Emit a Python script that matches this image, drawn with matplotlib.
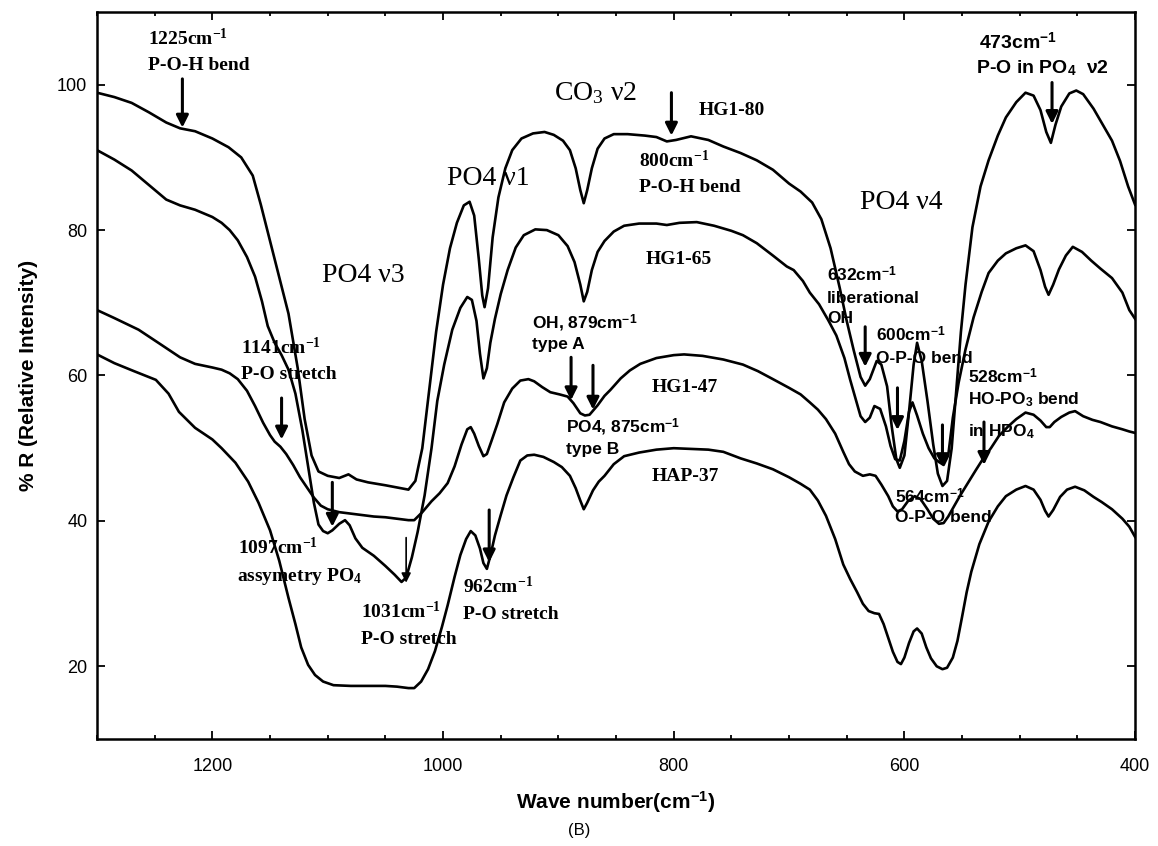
import matplotlib
matplotlib.use("Agg")
import matplotlib.pyplot as plt
from matplotlib.ticker import MultipleLocator

plt.rcParams['mathtext.fontset'] = 'custom'
plt.rcParams['mathtext.rm'] = 'Liberation Serif'
plt.rcParams['mathtext.bf'] = 'Liberation Serif:bold'
plt.rcParams['mathtext.it'] = 'Liberation Serif:italic'
plt.rcParams['mathtext.sf'] = 'Liberation Sans:bold'

# HG1-80
hg80_x = [1300, 1285, 1270, 1255, 1240, 1228, 1215, 1200, 1186, 1175, 1165, 1158, 1150, 1142, 1134,
          1126, 1120, 1114, 1108, 1100, 1090, 1082, 1075, 1065, 1050, 1040, 1030, 1024, 1018, 1012,
          1006, 1000, 994, 988, 982, 977, 973, 969, 966, 964, 961, 957, 952, 946, 940, 932, 922, 912,
          904, 896, 890, 885, 881, 878, 875, 871, 866, 860, 852, 840, 825, 815, 806, 798, 785, 770,
          757, 742, 728, 714, 700, 690, 680, 672, 664, 656, 650, 644, 638, 634, 630, 624, 620, 615,
          611, 607, 604, 600, 596, 592, 589, 585, 580, 575, 571, 567, 563, 559, 555, 551, 547, 541,
          534, 527, 519, 512, 503, 495, 488, 482, 477, 473, 469, 464, 457, 451, 445, 436, 428, 420,
          413, 406, 400]
hg80_y = [98.9, 98.3, 97.5, 96.2, 94.8, 94.0, 93.6, 92.6, 91.4, 90.0, 87.5, 83.5, 78.5, 73.5, 68.5,
          61, 54, 49, 46.8, 46.2, 45.9, 46.4, 45.7, 45.3, 44.9, 44.6, 44.3, 45.5, 50, 58,
          66, 72.5, 77.5, 81, 83.4, 83.9, 82, 76, 71, 69.4, 72, 79, 84.5, 88.5, 91, 92.6, 93.3, 93.5,
          93.1, 92.3, 91, 88.5, 85.5, 83.7, 85.5, 88.5, 91.2, 92.6, 93.2, 93.2, 93.0, 92.8, 92.2, 92.4, 92.9, 92.4,
          91.5, 90.6, 89.6, 88.3, 86.4, 85.3, 83.8, 81.5, 77.5, 72, 67.5, 63.5, 59.8, 58.6, 59.5, 62, 61.5, 58.5,
          53, 48.5, 47.3, 49, 55, 61.5, 64.5, 62, 56.5, 50.5, 46.5, 44.8, 45.5, 50, 58, 66, 72.5, 80.4,
          86, 89.6, 93, 95.5, 97.6, 98.9, 98.5, 96.5, 93.5, 92, 94.5, 97, 98.8, 99.2, 98.7, 96.7, 94.5, 92.3,
          89.5, 86, 83.5]

# HG1-65
hg65_x = [1300, 1285, 1270, 1255, 1240, 1228, 1215, 1200, 1192, 1185, 1178, 1170, 1163, 1157, 1152,
          1146, 1140, 1134, 1128, 1122, 1117, 1112, 1108, 1104, 1100, 1096, 1090, 1085, 1081, 1076,
          1070, 1060, 1050, 1042, 1036, 1032, 1027, 1022, 1016, 1010, 1005, 999, 992, 985, 979, 975,
          971, 968, 965, 962, 959, 955, 950, 944, 937, 930, 920, 910, 900, 892, 886, 881, 878, 875,
          871, 866, 860, 852, 843, 830, 815, 806, 795, 780, 765, 750, 740, 728, 714, 702, 696, 688,
          682, 674, 666, 659, 652, 647, 642, 638, 634, 630, 626, 621, 616, 612, 608, 604, 600, 596,
          593, 589, 584, 579, 574, 570, 566, 562, 558, 553, 547, 540, 533, 527, 519, 512, 503, 495,
          488, 482, 478, 475, 471, 466, 460, 454, 446, 438, 430, 420, 411, 405, 400]
hg65_y = [91.0, 89.7, 88.2, 86.2, 84.2, 83.4, 82.8, 81.8, 81.0, 80.0, 78.6, 76.3, 73.6, 70.2, 66.8,
          64.5, 62.8, 60.8, 57.5, 52.5, 47.5, 42.5, 39.5, 38.6, 38.3, 38.7, 39.6, 40.1, 39.4, 37.6,
          36.3, 35.2, 33.8, 32.6, 31.6, 32.2, 35, 38.5, 43.5, 50, 56.5, 61.5, 66.3, 69.3, 70.8, 70.4,
          67.5, 63, 59.6, 61, 64.5, 67.8, 71.2, 74.5, 77.6, 79.3, 80.1, 80, 79.3, 77.8, 75.6, 72.5, 70.2, 71.5,
          74.5, 77, 78.5, 79.8, 80.6, 80.9, 80.9, 80.7, 81.0, 81.1, 80.6, 79.9, 79.3, 78.2, 76.5, 75, 74.5, 73,
          71.4, 69.8, 67.6, 65.5, 62.4, 59.4, 56.6, 54.4, 53.6, 54.2, 55.8, 55.4, 53, 50.3, 48.5, 48.3, 51, 55,
          56.3, 54.5, 52, 50, 48.6, 48.1, 47.7, 49, 54.2, 59, 63.6, 68, 71.5, 74.1, 75.8, 76.8, 77.5, 77.9,
          77.1, 74.5, 72.2, 71.1, 72.5, 74.6, 76.5, 77.7, 77, 75.8, 74.7, 73.4, 71.4, 69, 67.8]

# HG1-47
hg47_x = [1300, 1285, 1264, 1245, 1228, 1215, 1200, 1192, 1185, 1178, 1170, 1163, 1156, 1150, 1146,
          1141, 1136, 1130, 1124, 1118, 1112, 1106, 1100, 1090, 1080, 1070, 1060, 1050, 1040, 1030,
          1025, 1018, 1010, 1003, 996, 990, 984, 979, 976, 973, 969, 965, 962, 958, 953, 947, 940,
          933, 926, 921, 914, 907, 899, 892, 887, 881, 877, 873, 866, 860, 855, 846, 838, 829, 815,
          800, 791, 775, 757, 740, 727, 714, 700, 690, 682, 675, 668, 660, 653, 648, 643, 636, 630,
          625, 620, 614, 610, 606, 602, 597, 591, 586, 580, 575, 570, 566, 562, 557, 552, 545, 538,
          532, 525, 518, 510, 503, 495, 488, 482, 477, 474, 470, 464, 457, 452, 445, 437, 430, 420,
          411, 405, 400]
hg47_y = [69.0, 67.9, 66.3, 64.3, 62.5, 61.6, 61.1, 60.8, 60.3, 59.5, 57.9, 55.8, 53.5, 51.8, 50.9,
          50.2, 49.2, 47.7, 46, 44.6, 43.2, 42.1, 41.6, 41.2, 41, 40.8, 40.6, 40.5, 40.3, 40.1,
          40.1, 41.2, 42.7, 43.8, 45.2, 47.5, 50.5, 52.6, 52.9, 52, 50.3, 48.9, 49.2, 51, 53.3, 56.3, 58.2,
          59.3, 59.5, 59.2, 58.4, 57.7, 57.4, 57.1, 56.2, 54.8, 54.5, 54.6, 55.9, 57.2, 58, 59.6, 60.7, 61.6, 62.4,
          62.8, 62.9, 62.7, 62.2, 61.5, 60.6, 59.5, 58.3, 57.4, 56.3, 55.3, 54, 52, 49.5, 47.8, 46.8, 46.2, 46.4,
          46.2, 45, 43.4, 42, 41.3, 41.6, 42.7, 43.4, 43, 41.6, 40.3, 39.6, 39.7, 40.6, 42, 43.4, 45.2, 47,
          48.5, 50, 51.7, 53, 54, 54.9, 54.6, 53.8, 52.9, 52.9, 53.6, 54.3, 54.9, 55.1, 54.4, 53.9, 53.6, 53,
          52.6, 52.3, 52.1]

# HAP-37
hap_x = [1300, 1285, 1268, 1249, 1238, 1229, 1215, 1200, 1192, 1180, 1169, 1160, 1150, 1142, 1134,
         1128, 1123, 1117, 1111, 1104, 1095, 1080, 1065, 1050, 1040, 1030, 1025, 1019, 1013, 1007,
         1001, 996, 990, 985, 980, 976, 972, 968, 965, 962, 959, 955, 950, 945, 939, 933, 927, 921,
         913, 904, 897, 890, 885, 881, 878, 875, 870, 865, 860, 852, 843, 830, 815, 800, 785, 770,
         757, 742, 728, 714, 700, 690, 682, 675, 668, 660, 653, 647, 641, 636, 631, 626, 622, 618,
         614, 610, 606, 603, 600, 596, 592, 589, 585, 581, 577, 572, 567, 563, 558, 554, 550, 546,
         542, 535, 527, 519, 512, 503, 495, 488, 482, 478, 475, 471, 465, 459, 452, 444, 436, 429,
         420, 411, 405, 400]
hap_y = [62.9, 61.7, 60.6, 59.4, 57.5, 55, 52.8, 51.2, 50.0, 48, 45.4, 42.5, 38.7, 34.5, 29.4,
         25.8, 22.6, 20.2, 18.8, 17.9, 17.4, 17.3, 17.3, 17.3, 17.2, 17.0, 17.0, 17.9, 19.6, 22.1,
         25.4, 28.4, 32.3, 35.3, 37.5, 38.6, 38, 36.2, 34.2, 33.4, 35.2, 38, 40.8, 43.5, 46, 48.3, 49, 49.1,
         48.8, 48.1, 47.4, 46.2, 44.5, 42.8, 41.6, 42.5, 44.2, 45.4, 46.2, 47.8, 48.9, 49.4, 49.8, 50, 49.9, 49.8,
         49.5, 48.6, 47.9, 47.1, 46, 45.1, 44.3, 42.8, 40.7, 37.5, 34, 32, 30.2, 28.6, 27.6, 27.3, 27.2, 25.8,
         23.9, 22, 20.6, 20.3, 21.2, 23.2, 24.8, 25.2, 24.5, 22.6, 21.1, 20, 19.6, 19.8, 21.2, 23.5, 26.8, 30.2,
         33, 36.8, 39.9, 42, 43.4, 44.3, 44.8, 44.3, 42.9, 41.4, 40.6, 41.5, 43.3, 44.3, 44.7, 44.2, 43.3, 42.6,
         41.6, 40.3, 39.2, 37.8]

SERIF = 'Liberation Serif'
SANS = 'Liberation Sans'

fig = plt.figure(figsize=(11.58, 8.46), dpi=100)
ax = fig.add_axes([0.0838, 0.1265, 0.8964, 0.8593])

for xs, ys in [(hg80_x, hg80_y), (hg65_x, hg65_y), (hg47_x, hg47_y), (hap_x, hap_y)]:
    ax.plot(xs, ys, color='black', lw=1.9, solid_joinstyle='round')

ax.set_xlim(1300, 400)
ax.set_ylim(10, 110)
ax.xaxis.set_major_locator(MultipleLocator(200))
ax.xaxis.set_minor_locator(MultipleLocator(50))
ax.set_yticks([20, 40, 60, 80, 100])
ax.tick_params(which='both', direction='in', top=True, right=True, width=1.3)
ax.tick_params(which='major', length=6)
ax.tick_params(which='minor', length=3)
ax.tick_params(axis='x', pad=14, labelsize=13)
ax.tick_params(axis='y', pad=7, labelsize=13)
for lab in ax.get_xticklabels() + ax.get_yticklabels():
    lab.set_fontfamily(SANS)
for sp in ax.spines.values():
    sp.set_linewidth(1.8)

ax.set_xlabel('Wave number(cm$^{\\mathsf{-1}}$)', fontfamily=SANS, fontweight='bold',
              fontsize=15, labelpad=10)
ax.set_ylabel('% R (Relative Intensity)', fontfamily=SANS, fontweight='bold', fontsize=15, labelpad=14)
fig.text(0.5, 0.01, '(B)', ha='center', va='bottom', fontfamily=SANS, fontsize=12)


def arrow(x, y0, y1, lw=2.2, ms=18):
    ax.annotate('', xy=(x, y1), xytext=(x, y0),
                arrowprops=dict(arrowstyle='-|>', color='black', lw=lw, mutation_scale=ms,
                                shrinkA=0, shrinkB=0))


def serif_bold(x, y, s, size=14, ha='left'):
    ax.text(x, y, s, fontfamily=SERIF, fontweight='bold', fontsize=size, ha=ha, va='center')


def sans_bold(x, y, s, size=12.5, ha='left'):
    ax.text(x, y, s, fontfamily=SANS, fontweight='bold', fontsize=size, ha=ha, va='center')


# band names
ax.text(1069, 73.8, 'PO4 ν3', fontfamily=SERIF, fontsize=20, ha='center', va='center')
ax.text(961, 87.1, 'PO4 ν1', fontfamily=SERIF, fontsize=20, ha='center', va='center')
ax.text(868, 98.8, 'CO$_{\\mathrm{3}}$ ν2', fontfamily=SERIF, fontsize=20, ha='center', va='center')
ax.text(603, 83.8, 'PO4 ν4', fontfamily=SERIF, fontsize=20, ha='center', va='center')

# sample names
serif_bold(750, 96.4, 'HG1-80', ha='center')
serif_bold(796, 75.9, 'HG1-65', ha='center')
serif_bold(790, 58.4, 'HG1-47', ha='center')
serif_bold(790, 46.1, 'HAP-37', ha='center')

# peak assignments
serif_bold(1256, 106.3, '1225cm$^{\\mathbf{-1}}$')
serif_bold(1256, 102.7, 'P-O-H bend')
arrow(1226, 100.8, 94.1)

serif_bold(830, 89.6, '800cm$^{\\mathbf{-1}}$')
serif_bold(830, 85.9, 'P-O-H bend')
arrow(802, 98.9, 93.0)

serif_bold(1175, 63.8, '1141cm$^{\\mathbf{-1}}$')
serif_bold(1175, 60.1, 'P-O stretch')
arrow(1140, 56.9, 51.2)

serif_bold(1178, 36.3, '1097cm$^{\\mathbf{-1}}$')
serif_bold(1179, 32.4, 'assymetry PO$_{\\mathbf{4}}$')
arrow(1096, 45.3, 39.2)

serif_bold(1071, 27.6, '1031cm$^{\\mathbf{-1}}$')
serif_bold(1071, 23.7, 'P-O stretch')
arrow(1032, 37.7, 31.5, lw=1.2, ms=14)

serif_bold(983, 31.0, '962cm$^{\\mathbf{-1}}$')
serif_bold(983, 27.1, 'P-O stretch')
arrow(960, 41.5, 34.3)

sans_bold(923, 67.2, 'OH, 879cm$^{\\mathsf{-1}}$')
sans_bold(923, 64.2, 'type A')
arrow(889, 62.5, 56.6)
arrow(870, 61.4, 55.3)
sans_bold(893, 52.8, 'PO4, 875cm$^{\\mathsf{-1}}$')
sans_bold(893, 49.8, 'type B')

sans_bold(535, 105.8, '473cm$^{\\mathsf{-1}}$', size=14)
sans_bold(538, 102.3, 'P-O in PO$_{\\mathsf{4}}$  ν2', size=14)
arrow(472, 100.3, 94.6)

sans_bold(667, 73.8, '632cm$^{\\mathsf{-1}}$')
sans_bold(667, 70.6, 'liberational')
sans_bold(667, 67.9, 'OH')
arrow(634, 66.7, 61.2)

sans_bold(625, 65.6, '600cm$^{\\mathsf{-1}}$')
sans_bold(625, 62.4, 'O-P-O bend')
arrow(606, 58.3, 52.5)

sans_bold(545, 59.8, '528cm$^{\\mathsf{-1}}$')
sans_bold(545, 56.6, 'HO-PO$_{\\mathsf{3}}$ bend')
sans_bold(545, 52.3, 'in HPO$_{\\mathsf{4}}$')
arrow(531, 53.6, 47.7)

sans_bold(608, 43.3, '564cm$^{\\mathsf{-1}}$')
sans_bold(608, 40.5, 'O-P-O bend')
arrow(567, 53.2, 47.4)

fig.savefig('out.png', dpi=100)
